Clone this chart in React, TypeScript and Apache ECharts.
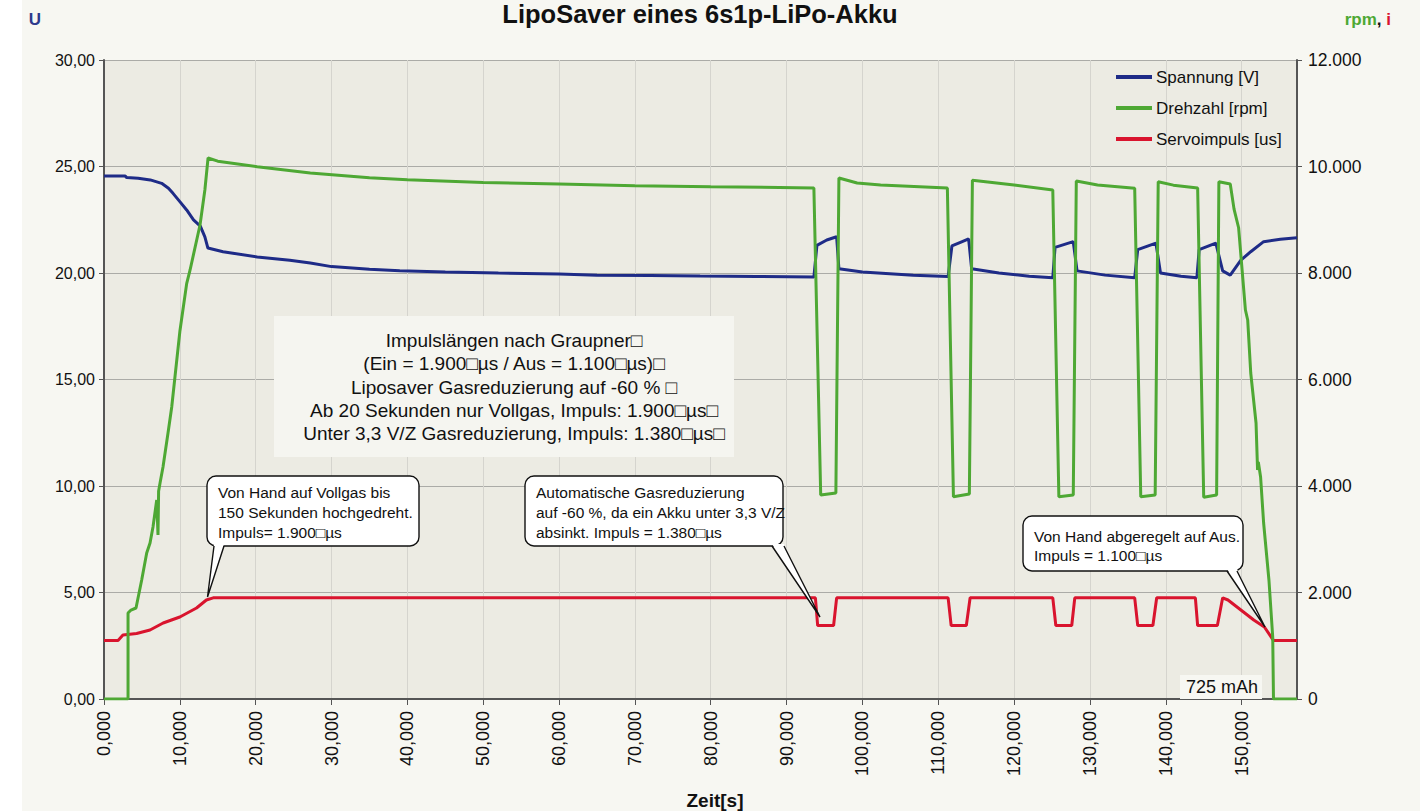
import React, { useEffect, useRef } from 'react';
import * as echarts from 'echarts';

const FONT = '"Liberation Sans", Arial, Helvetica, sans-serif';

// ---- data (time in s) ----
const voltT = [0, 2.8, 3.0, 4.5, 6.1, 7.6, 8.5, 9.1, 10.0, 10.9, 11.8, 12.7, 13.3, 13.7, 15.7, 20.2, 24.5, 27.2, 30, 35, 39, 45, 52, 60, 65, 72, 78.6, 86, 93.6,
  94.0, 95.3, 96.6, 96.9, 100, 106.7, 111.3,
  111.8, 113.0, 114.0, 114.4, 118, 122, 125.1,
  125.4, 127.8, 128.3, 132, 135.9,
  136.3, 138.7, 139.3, 142, 144.1,
  144.4, 146.6, 147.5, 148.5, 149.9, 151.2, 152.9, 155.1, 157.3];
const voltV = [24.55, 24.55, 24.48, 24.45, 24.37, 24.21, 23.98, 23.74, 23.35, 22.96, 22.49, 22.2, 21.7, 21.17, 21.0, 20.75, 20.6, 20.47, 20.3, 20.18, 20.1, 20.05, 20.0, 19.95, 19.9, 19.88, 19.86, 19.84, 19.81,
  21.3, 21.55, 21.7, 20.2, 20.05, 19.9, 19.83,
  21.27, 21.45, 21.6, 20.2, 20.0, 19.85, 19.78,
  21.2, 21.47, 20.1, 19.9, 19.78,
  21.1, 21.4, 20.0, 19.85, 19.78,
  21.1, 21.4, 20.1, 19.9, 20.6, 21.0, 21.47, 21.58, 21.65];

const rpmT = [0, 3.17, 3.17, 3.56, 4.22, 4.97, 5.63, 6.07, 6.46, 6.95, 7.12, 7.2, 7.39, 7.78, 8.44, 8.93, 10.0, 10.9, 11.35, 12.66, 13.3, 13.72, 15, 20.2, 27.2, 35, 40, 50, 60, 70, 80, 93.6,
  94.5, 96.5, 96.9, 99.3, 102.4, 111.2,
  112.0, 114.1, 114.5, 120, 125.1,
  125.9, 127.8, 128.2, 131, 135.9,
  136.7, 138.6, 139.0, 141, 144.2,
  145.0, 146.7, 147.0, 148.5, 149.0, 149.6, 150.5, 150.8, 151.2, 151.9, 152.1, 152.2, 152.5, 152.9, 153.6, 154.1, 154.2, 157.3];
const rpmV = [0, 0, 1615, 1671, 1709, 2235, 2742, 2930, 3230, 3737, 3080, 3900, 4056, 4357, 4995, 5484, 6900, 7800, 8057, 8902, 9559, 10160, 10100, 9997, 9878, 9790, 9750, 9700, 9670, 9640, 9620, 9597,
  3830, 3870, 9784, 9690, 9653, 9597,
  3800, 3850, 9740, 9653, 9560,
  3800, 3830, 9728, 9653, 9590,
  3800, 3830, 9715, 9650, 9597,
  3790, 3830, 9715, 9672, 9200, 8850, 7305, 7118, 6122, 5183, 4300, 4450, 4169, 3305, 2235, 1164, 0, 0];

const servoT = [0, 1.85, 2.5, 4.3, 6.07, 7.8, 10.0, 12.2, 13.5, 14.4, 93.8,
  94.1, 96.2, 96.6, 111.3, 111.7, 113.7, 114.2, 125.1, 125.5, 127.6, 128.0, 135.9, 136.3, 138.3, 138.8, 143.9,
  144.2, 146.8, 147.5, 148.2, 149.9, 151.6, 153.0, 154.2, 157.3];
const servoV = [1100, 1100, 1200, 1230, 1296, 1427, 1540, 1709, 1859, 1900, 1900,
  1380, 1380, 1900, 1900, 1380, 1380, 1900, 1900, 1380, 1380, 1900, 1900, 1380, 1380, 1900, 1900,
  1380, 1380, 1900, 1859, 1671, 1484, 1352, 1100, 1100];

const seriesNames = ['Spannung [V]', 'Drehzahl [rpm]', 'Servoimpuls [us]'];
const seriesColors = ['#1E2B87', '#4EA834', '#D9142E'];

const titleText = 'LipoSaver eines 6s1p-LiPo-Akku';
const xAxisName = 'Zeit[s]';
const infoLines = [
  'Impulslängen nach Graupner\u25A1',
  '(Ein = 1.900\u25A1µs / Aus = 1.100\u25A1µs)\u25A1',
  'Liposaver Gasreduzierung auf -60 % \u25A1',
  'Ab 20 Sekunden nur Vollgas, Impuls: 1.900\u25A1µs\u25A1',
  'Unter 3,3 V/Z Gasreduzierung, Impuls: 1.380\u25A1µs\u25A1',
];
const note1 = ['Von Hand auf Vollgas bis', '150 Sekunden hochgedreht.', 'Impuls= 1.900\u25A1µs'];
const note2 = ['Automatische Gasreduzierung', 'auf -60 %, da ein Akku unter 3,3 V/Z', 'absinkt. Impuls = 1.380\u25A1µs'];
const note3 = ['Von Hand abgeregelt auf Aus.', 'Impuls = 1.100\u25A1µs'];
const capacityText = '725 mAh';

const pairs = (t: number[], v: number[]) => t.map((x, i) => [x, v[i]]);

function callout(x: number, y: number, w: number, h: number, lines: string[], lh: number, firstCenter: number,
  bx1: number, bx2: number, tipx: number, tipy: number) {
  return [
    { type: 'rect', z: 100, shape: { x, y, width: w, height: h, r: 9 }, style: { fill: '#fff', stroke: '#111', lineWidth: 1.4 } },
    { type: 'polygon', z: 101, shape: { points: [[bx1, y + h - 2], [bx2, y + h - 2], [tipx, tipy]] }, style: { fill: '#fff' } },
    { type: 'polyline', z: 102, shape: { points: [[bx1, y + h], [tipx, tipy], [bx2, y + h]] }, style: { stroke: '#111', lineWidth: 1.4, fill: null } },
    { type: 'text', z: 103, x: x + 11, y: firstCenter - lh / 2, style: { text: lines.join('\n'), font: `15.5px ${FONT}`, lineHeight: lh, fill: '#111', textVerticalAlign: 'top' } },
  ];
}

export default function App() {
  const ref = useRef<HTMLDivElement>(null);
  useEffect(() => {
    document.body.style.margin = '0';
    const chart = echarts.init(ref.current!, null, { renderer: 'svg' });
    const axisLine = { show: true, lineStyle: { color: '#555', width: 2 } };
    chart.setOption({
      animation: false,
      backgroundColor: 'transparent',
      textStyle: { fontFamily: FONT },
      grid: { left: 104, right: 123, top: 60, bottom: 112, show: true, backgroundColor: '#ECEBE3', borderWidth: 0 },
      legend: {
        orient: 'vertical', left: 1116, top: 67, padding: 0, itemWidth: 36, itemHeight: 4, itemGap: 11, icon: 'rect',
        data: seriesNames,
        textStyle: { fontSize: 17, color: '#111', lineHeight: 20, fontFamily: FONT, padding: [0, 0, 0, -1] },
      },
      xAxis: {
        type: 'value', min: 0, max: 157.3, interval: 10,
        axisLine, axisTick: { show: true, length: 6, lineStyle: { color: '#555' } },
        axisLabel: { rotate: 90, fontSize: 18, color: '#111', margin: 12, showMaxLabel: false, formatter: (v: number) => v.toFixed(3).replace('.', ',') },
        splitLine: { show: true, lineStyle: { color: '#D5D4CE', width: 1 } },
      },
      yAxis: [
        {
          type: 'value', min: 0, max: 30, interval: 5, position: 'left',
          axisLine, axisTick: { show: true, length: 5, lineStyle: { color: '#555' } },
          axisLabel: { fontSize: 16, color: '#111', margin: 9, formatter: (v: number) => v.toFixed(2).replace('.', ',') },
          splitLine: { show: true, lineStyle: { color: '#ABABA7', width: 1 } },
        },
        {
          type: 'value', min: 0, max: 12000, interval: 2000, position: 'right',
          axisLine, axisTick: { show: true, length: 5, lineStyle: { color: '#555' } },
          axisLabel: { fontSize: 17.5, color: '#111', margin: 11, formatter: (v: number) => String(v).replace(/\B(?=(\d{3})+(?!\d))/g, '.') },
          splitLine: { show: false },
        },
      ],
      series: [
        { name: seriesNames[0], type: 'line', yAxisIndex: 0, data: pairs(voltT, voltV), symbol: 'none', color: seriesColors[0], lineStyle: { width: 3, color: seriesColors[0] }, z: 3 },
        { name: seriesNames[2], type: 'line', yAxisIndex: 1, data: pairs(servoT, servoV), symbol: 'none', color: seriesColors[2], lineStyle: { width: 3, color: seriesColors[2] }, z: 4 },
        { name: seriesNames[1], type: 'line', yAxisIndex: 1, data: pairs(rpmT, rpmV), symbol: 'none', color: seriesColors[1], lineStyle: { width: 3, color: seriesColors[1] }, z: 5 },
      ],
      graphic: [
        { type: 'text', x: 700, y: 14, z: 100, style: { text: titleText, font: `bold 25.5px ${FONT}`, fill: '#111', textAlign: 'center', textVerticalAlign: 'middle' } },
        { type: 'text', x: 35, y: 19, z: 100, style: { text: 'U', font: `bold 17px ${FONT}`, fill: '#2E3A8C', textAlign: 'center', textVerticalAlign: 'middle' } },
        {
          type: 'text', x: 1391, y: 19, z: 100,
          style: {
            text: '{g|rpm}{k|, }{r|i}', textAlign: 'right', textVerticalAlign: 'middle',
            rich: {
              g: { fill: '#4EA834', font: `bold 17px ${FONT}` },
              k: { fill: '#111', font: `bold 17px ${FONT}` },
              r: { fill: '#D9142E', font: `bold 17px ${FONT}` },
            },
          },
        },
        { type: 'text', x: 715, y: 800, z: 100, style: { text: xAxisName, font: `bold 19px ${FONT}`, fill: '#111', textAlign: 'center', textVerticalAlign: 'middle' } },
        { type: 'rect', z: 100, shape: { x: 274, y: 316, width: 460, height: 141 }, style: { fill: '#F5F5F0' } },
        { type: 'text', z: 101, x: 514, y: 329, style: { text: infoLines.join('\n'), font: `19px ${FONT}`, lineHeight: 23.2, fill: '#111', textAlign: 'center', textVerticalAlign: 'top' } },
        ...callout(207, 476, 212, 70, note1, 20, 492, 214, 224, 207.5, 597),
        ...callout(525, 476, 258, 70, note2, 20, 492, 772, 784, 820, 617),
        ...callout(1023, 516, 220, 55, note3, 19, 536, 1227, 1237, 1265, 627),
        { type: 'rect', z: 100, shape: { x: 1180, y: 675, width: 82, height: 24 }, style: { fill: '#F7F7F2' } },
        { type: 'text', z: 101, x: 1222, y: 687, style: { text: capacityText, font: `18px ${FONT}`, fill: '#111', textAlign: 'center', textVerticalAlign: 'middle' } },
      ],
    });
    return () => chart.dispose();
  }, []);
  return (
    <div
      ref={ref}
      style={{
        width: 1420,
        height: 811,
        background: 'linear-gradient(to right, #ffffff 0px, #ffffff 22px, #F7F7F2 22px)',
      }}
    />
  );
}
